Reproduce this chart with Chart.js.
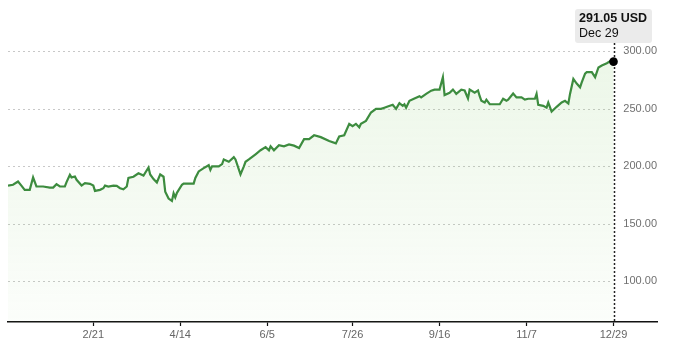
<!DOCTYPE html>
<html>
<head>
<meta charset="utf-8">
<script src="https://cdn.jsdelivr.net/npm/chart.js@4.4.1/dist/chart.umd.min.js"></script>
<style>
html,body{margin:0;padding:0;background:#fff;}
#c{display:block;}
</style>
</head>
<body>
<canvas id="c" width="680" height="354"></canvas>
<script>
// Day of year 2023 (0 = Jan 1) for each sampled close
const days = [0,3,6,8,10,13,15,17,21,25,27,29,31,34,35,37,38,40,41,44,46,49,51,52,55,57,58,60,63,65,67,69,71,
72,75,78,81,84,85,87,89,91,93,94,96,98,99,100,101,104,105,111,112,114,117,120,121,122,126,128,129,132,135,136,139,141,142,
144,148,151,154,156,157,159,162,165,168,171,174,177,180,183,187,192,196,198,201,204,206,208,210,211,214,
217,220,223,225,227,230,232,234,236,237,238,240,243,246,247,250,253,255,258,260,261,264,266,267,268,271,273,275,276,279,281,282,283,
285,286,288,290,294,296,298,299,302,304,307,309,311,315,316,317,320,322,323,325,328,331,333,335,336,338,340,342,343,345,346,349,351,353,355,358,360,362];
// Closing prices (USD)
const prices = [183.3,184,186.8,183.3,179.6,179.6,190.4,182.5,182.5,181.6,181.6,184.5,182.5,182.5,186.3,192.7,190.4,191.2,188.3,183.3,185.4,184.8,183.3,178.7,179.6,181,183.3,182.5,183.3,183,181,180,182.5,
190,191,194,192,199,193,189,186,193,191,178,172,170,176.6,173,177,184,185,185,190,195.6,198.5,201,197,200,200,202,206,204,208,206,193,200,204,
206,210.5,214,216.7,214,217.5,214,218.4,217.5,219,218,216,223.7,223.7,227,225.4,222,220,226,227,237,235,237,234,237,239.5,
246.8,250,250,251,252,253.5,250,255,252.6,254,251,257,259,261,260,263,265.8,266.7,266.7,277.5,262,264,266.7,265,263,266.7,266,259,266.7,264,266,261,257,
255.5,258,254,254,254,258.8,257,258,263.4,260,260,258,258.8,258.8,263,253.5,252.6,251,255.5,247.6,251.8,255.5,257,254.6,263,276,272,268.7,273,280.7,281.9,281.9,277.5,286,287.7,289.7,291.5,291.05];
// X tick positions (day of year) and labels
const tickDays = [51,103,155,206,258,310,362];
const tickLabels = ['2/21','4/14','6/5','7/26','9/16','11/7','12/29'];
// Y tick values
const yTicks = [100,150,200,250,300];
const lastLabel = 'Dec 29';
const unit = 'USD';

const points = days.map((d,i)=>({x:d,y:prices[i]}));
const lastIdx = points.length-1;

const overlay = {
  id:'overlay',
  beforeDatasetsDraw(chart){
    const {ctx, chartArea, scales:{x,y}} = chart;
    ctx.save();
    // dashed y gridlines
    ctx.strokeStyle = '#c8c8c8';
    ctx.lineWidth = 1;
    ctx.setLineDash([2,3]);
    const xEnd = x.getPixelForValue(360.3);
    yTicks.forEach(v=>{
      const py = Math.round(y.getPixelForValue(v))+0.5;
      ctx.beginPath();
      ctx.moveTo(chartArea.left, py);
      ctx.lineTo(xEnd, py);
      ctx.stroke();
    });
    // vertical dotted marker
    const px = Math.round(x.getPixelForValue(days[lastIdx]))+0.5;
    ctx.strokeStyle = '#222';
    ctx.lineWidth = 1.5;
    ctx.setLineDash([2,2]);
    ctx.beginPath();
    ctx.moveTo(px, 43);
    ctx.lineTo(px, chartArea.bottom);
    ctx.stroke();
    ctx.restore();
  },
  afterDraw(chart){
    const {ctx} = chart;
    ctx.save();
    const bx=575, by=9, bw=77, bh=34, r=3;
    ctx.fillStyle = '#ebebeb';
    ctx.beginPath();
    ctx.moveTo(bx+r,by);ctx.lineTo(bx+bw-r,by);ctx.quadraticCurveTo(bx+bw,by,bx+bw,by+r);
    ctx.lineTo(bx+bw,by+bh-r);ctx.quadraticCurveTo(bx+bw,by+bh,bx+bw-r,by+bh);
    ctx.lineTo(bx+r,by+bh);ctx.quadraticCurveTo(bx,by+bh,bx,by+bh-r);
    ctx.lineTo(bx,by+r);ctx.quadraticCurveTo(bx,by,bx+r,by);
    ctx.fill();
    ctx.fillStyle = '#111';
    ctx.textBaseline = 'middle';
    ctx.textAlign = 'left';
    ctx.font = 'bold 12.5px "Liberation Sans", Arial, sans-serif';
    ctx.fillText(prices[lastIdx].toFixed(2)+' '+unit, 579, 19);
    ctx.font = '12.5px "Liberation Sans", Arial, sans-serif';
    ctx.fillText(lastLabel, 579, 34);
    ctx.restore();
  }
};

new Chart(document.getElementById('c'), {
  type:'line',
  data:{datasets:[{
    data:points,
    borderColor:'#3d8c3f',
    borderWidth:2.2,
    tension:0,
    fill:'start',
    backgroundColor:(c)=>{
      const ch=c.chart; const a=ch.chartArea;
      if(!a) return 'rgba(140,200,120,0.1)';
      const g=ch.ctx.createLinearGradient(0,a.top+40,0,a.bottom);
      g.addColorStop(0,'rgba(140,205,115,0.17)');
      g.addColorStop(1,'rgba(140,205,115,0.03)');
      return g;
    },
    pointRadius:(c)=>c.dataIndex===lastIdx?4.3:0,
    pointHoverRadius:(c)=>c.dataIndex===lastIdx?4.3:0,
    pointBackgroundColor:'#000',
    pointBorderColor:'#000',
    pointBorderWidth:0
  }]},
  options:{
    responsive:false,
    animation:false,
    events:[],
    layout:{padding:{left:8,right:23,top:0,bottom:0}},
    plugins:{legend:{display:false},tooltip:{enabled:false}},
    scales:{
      x:{
        type:'linear',
        min:0,max:388,
        afterBuildTicks:(s)=>{s.ticks=tickDays.map(v=>({value:v}));},
        afterFit:(s)=>{s.height=32;},
        border:{display:true,color:'#111',width:1.5},
        grid:{drawOnChartArea:false,drawTicks:true,tickLength:4,tickColor:'#111',tickWidth:1.2},
        ticks:{
          padding:2,
          color:'#666',
          font:{family:'"Liberation Sans", Arial, sans-serif',size:11},
          maxRotation:0,
          autoSkip:false,
          callback:(v)=>{const i=tickDays.indexOf(v);return i>=0?tickLabels[i]:'';}
        }
      },
      y:{
        position:'right',
        min:64.7,max:338.9,
        afterBuildTicks:(s)=>{s.ticks=yTicks.map(v=>({value:v}));},
        afterFit:(s)=>{s.width=0;},
        border:{display:false},
        grid:{display:false,drawTicks:false},
        ticks:{
          mirror:true,
          padding:0,
          color:'#707070',
          font:{family:'"Liberation Sans", Arial, sans-serif',size:11},
          callback:(v)=>Number(v).toFixed(2)
        }
      }
    }
  },
  plugins:[overlay]
});
</script>
</body>
</html>
